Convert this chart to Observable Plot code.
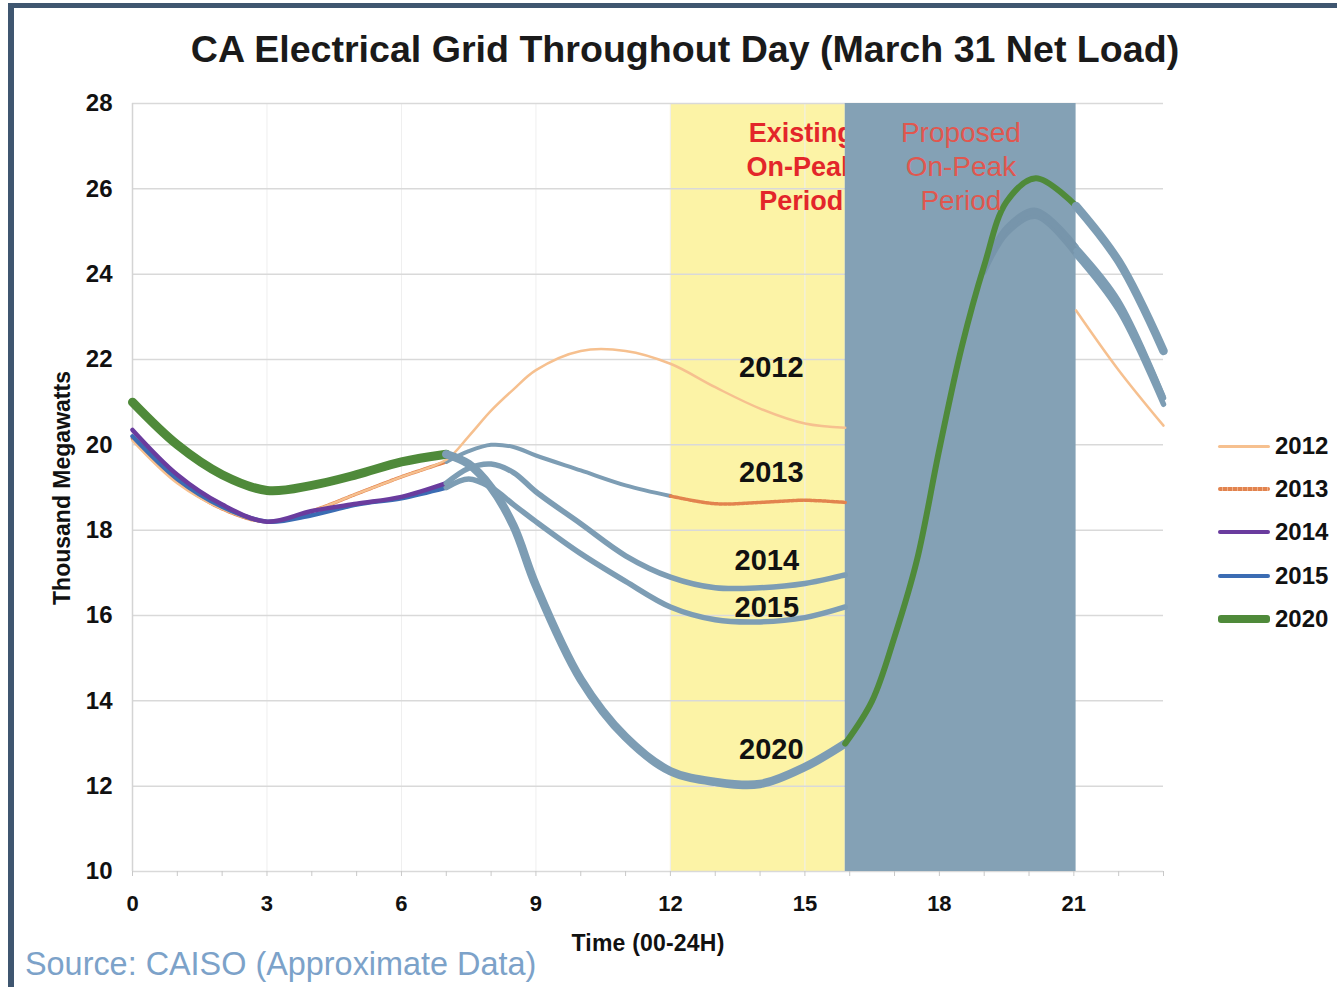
<!DOCTYPE html>
<html><head><meta charset="utf-8">
<script src="https://cdn.jsdelivr.net/npm/d3@7"></script>
<script src="https://cdn.jsdelivr.net/npm/@observablehq/plot@0.6"></script>
<style>
html,body{margin:0;padding:0;background:#fff;}
#wrap{position:relative;width:1337px;height:987px;overflow:hidden;font-family:"Liberation Sans",Arial,sans-serif;background:#fff;}
#chart{position:absolute;left:0;top:0;}
.abs{position:absolute;white-space:nowrap;line-height:1;}
#frame{position:absolute;left:8px;top:3px;width:1400px;height:1100px;border-top:5px solid #3f5670;border-left:6px solid #3f5670;}
#title{left:0;width:1370px;text-align:center;top:31px;font-size:37.6px;font-weight:bold;color:#1a1a1a;}
#ylab{left:62px;top:488px;transform:translate(-50%,-50%) rotate(-90deg);font-size:23px;font-weight:bold;color:#111;}
#xlab{left:648px;top:943px;transform:translate(-50%,-50%);font-size:23px;font-weight:bold;color:#111;letter-spacing:0.2px;}
#source{left:25px;top:964px;transform:translateY(-50%);font-size:32.4px;color:#7ca2c9;}
.lg{position:absolute;left:1218px;width:0;height:0;}
.sw{position:absolute;left:0;width:52px;border-radius:3px;}
.lt{position:absolute;left:57px;font-size:24px;font-weight:bold;color:#111;transform:translateY(-50%);}
</style></head><body>
<div id="wrap">
  <div id="chart"></div>
  <div id="frame"></div>
  <div class="abs" id="title">CA Electrical Grid Throughout Day (March 31 Net Load)</div>
  <div class="abs" id="ylab">Thousand Megawatts</div>
  <div class="abs" id="xlab">Time (00-24H)</div>
  <div class="abs" id="source">Source: CAISO (Approximate Data)</div>
  <div id="legend"></div>
</div>
<script>
// ---- data (thousand MW) ----
const hours = [0,1,2,3,4,5,6,7,7.5,8,8.5,9,10,11,12,13,14,15,15.9,16.5,17,17.5,18,18.5,19,19.5,20.15,21.05,22,23];
const load2012 = [20.1,19.1,18.5,18.2,18.45,18.85,19.25,19.65,20.2,20.8,21.3,21.75,22.2,22.2,21.9,21.35,20.85,20.5,20.4,20.6,21.0,21.6,22.3,22.9,23.4,23.7,23.8,23.15,21.75,20.45];
const load2013 = [20.15,19.15,18.5,18.2,18.45,18.85,19.25,19.6,19.85,20.0,19.95,19.75,19.4,19.05,18.8,18.62,18.65,18.7,18.65,18.9,19.4,20.2,21.3,22.7,24.2,25.1,25.5,24.65,23.4,21.15];
const load2014 = [20.35,19.3,18.6,18.2,18.45,18.62,18.78,19.1,19.45,19.55,19.35,18.9,18.15,17.4,16.9,16.65,16.65,16.75,16.95,17.3,17.9,19.0,20.6,22.4,24.15,25.05,25.45,24.55,23.3,21.1];
const load2015 = [20.2,19.2,18.55,18.2,18.35,18.6,18.75,19.0,19.2,19.0,18.6,18.2,17.45,16.8,16.2,15.9,15.85,15.95,16.2,16.7,17.4,18.6,20.3,22.2,24.05,24.95,25.35,24.45,23.15,20.95];
const load2020 = [21.0,20.0,19.3,18.93,19.05,19.3,19.6,19.78,19.55,19.0,18.1,16.7,14.5,13.15,12.35,12.1,12.05,12.45,13.0,14.0,15.5,17.3,19.9,22.3,24.2,25.7,26.25,25.6,24.3,22.2];
const years = ["2012","2013","2014","2015","2020"];
const existingPeriod = [12, 15.9];
const proposedPeriod = [15.9, 21.05];
const yTicks = [10,12,14,16,18,20,22,24,26,28];
const xTickLabels = [0,3,6,9,12,15,18,21];
const hourTicks = d3.range(0, 24);

// ---- styling ----
const C = {peach:"#f6c08f", orange:"#e2834e", purple:"#6a3c9e", blue:"#3b6cb3", green:"#4f8a3a", steel:"#7d9db4", arc:"#7795ab", yellow:"#fcf3a6", band:"#84a1b5"};
const legendStyle = {
  "2012": {c:C.peach, w:3},
  "2013": {c:C.orange, w:4},
  "2014": {c:C.purple, w:4},
  "2015": {c:C.blue, w:4},
  "2020": {c:C.green, w:8}
};
function styleFor(year, h) {
  const r = h < 7 ? "left" : h < 12 ? "mid" : h < existingPeriod[1] ? "yel" : h < proposedPeriod[1] ? "band" : "right";
  const thick = year === "2020";
  const steel = {key:"steel", stroke:C.steel, w: thick ? 8.5 : (year === "2013" ? 4 : 5.5)};
  const arc = {key:"arc", stroke:C.arc, w:5};
  if (year === "2012") return r === "band" ? null : {key:"peach", stroke:C.peach, w:2.5};
  if (year === "2013") {
    if (r === "left" || r === "yel") return {key:"orange", stroke:C.orange, w:3.5, dash:"3,1.5"};
    if (r === "band") return h >= 19 ? arc : null;
    return steel;
  }
  if (year === "2020") {
    if (r === "left") return {key:"green", stroke:C.green, w:9};
    if (r === "band") return {key:"green", stroke:C.green, w:6};
    return steel;
  }
  if (r === "left") return year === "2014" ? {key:"purple", stroke:C.purple, w:4.5} : {key:"blue", stroke:C.blue, w:4.5};
  if (r === "band") return h >= 19 ? arc : null;
  return steel;
}
const seriesList = [
  {year:"2013", values:load2013},
  {year:"2012", values:load2012},
  {year:"2015", values:load2015},
  {year:"2014", values:load2014},
  {year:"2020", values:load2020}
];
const lineMarks = [];
for (const s of seriesList) {
  let run = null, runStyle = null;
  const flush = () => {
    if (run && run.length > 1) {
      lineMarks.push(Plot.line(run, {x:"h", y:"v", stroke:runStyle.stroke, strokeWidth:runStyle.w,
        strokeDasharray: runStyle.dash, curve:"catmull-rom", strokeLinecap:"round", strokeLinejoin:"round"}));
    }
    run = null; runStyle = null;
  };
  for (let i = 0; i < hours.length - 1; i++) {
    const mid = (hours[i] + hours[i+1]) / 2;
    const st = styleFor(s.year, mid);
    if (!st) { flush(); continue; }
    if (run && runStyle.key === st.key && runStyle.w === st.w) {
      run.push({h:hours[i+1], v:s.values[i+1]});
    } else {
      flush();
      runStyle = st;
      run = [{h:hours[i], v:s.values[i]}, {h:hours[i+1], v:s.values[i+1]}];
    }
  }
  flush();
}

// annotation label positions (data coords)
const yearLabels = [
  {t:"2012", x:14.25, y:21.8},
  {t:"2013", x:14.25, y:19.35},
  {t:"2014", x:14.15, y:17.29},
  {t:"2015", x:14.15, y:16.19},
  {t:"2020", x:14.25, y:12.86}
];

const svg = Plot.plot({
  width:1337, height:987,
  marginLeft:132, marginRight:174, marginTop:103, marginBottom:116,
  x:{domain:[0,23]},
  y:{domain:[10,28]},
  style:{fontFamily:'"Liberation Sans", Arial, sans-serif', fontWeight:"bold", background:"transparent", color:"#111"},
  marks:[
    Plot.rect([existingPeriod], {x1:d=>d[0], x2:d=>d[1], y1:10, y2:28, fill:C.yellow}),
    Plot.ruleX(xTickLabels, {stroke:"#efefef", strokeWidth:1}),
    Plot.ruleY(yTicks, {stroke:"#d9d9d9", strokeWidth:1.5}),
    Plot.ruleX([0], {stroke:"#d4d4d4", strokeWidth:1.5}),
    Plot.axisX(hourTicks, {tickSize:5, tickFormat:()=>"", stroke:"#c8c8c8", label:null}),
    Plot.axisX(xTickLabels, {tickSize:0, tickPadding:24, fontSize:22, label:null}),
    Plot.axisY(yTicks, {tickSize:0, tickPadding:20, fontSize:24, label:null}),
    Plot.text(["Existing\nOn-Peak\nPeriod"], {x:14.92, y:26.55, text:d=>d, fill:"#e3262a", fontSize:27, fontWeight:"bold", lineHeight:1.26, lineAnchor:"middle", textAnchor:"middle"}),
    Plot.rect([proposedPeriod], {x1:d=>d[0], x2:d=>d[1], y1:10, y2:28, fill:C.band}),
    ...lineMarks,
    Plot.text(yearLabels, {x:"x", y:"y", text:"t", fill:"#111", fontSize:29, fontWeight:"bold"}),
    Plot.text(["Proposed\nOn-Peak\nPeriod"], {x:18.48, y:26.55, text:d=>d, fill:"#e0574f", fontSize:28, fontWeight:"normal", lineHeight:1.21, lineAnchor:"middle", textAnchor:"middle"})
  ]
});
document.getElementById("chart").appendChild(svg);

// legend
const lg = document.getElementById("legend");
const rowY = [446, 489, 532, 576, 619];
years.forEach((yr, i) => {
  const st = legendStyle[yr];
  const row = document.createElement("div");
  row.className = "lg";
  row.style.top = rowY[i] + "px";
  const sw = document.createElement("div");
  sw.className = "sw";
  sw.style.height = st.w + "px";
  sw.style.top = (-st.w/2) + "px";
  sw.style.background = yr === "2013"
    ? `repeating-linear-gradient(90deg, ${st.c} 0 4px, #f0b08a 4px 5px)` : st.c;
  const lt = document.createElement("div");
  lt.className = "lt";
  lt.textContent = yr;
  row.appendChild(sw); row.appendChild(lt);
  lg.appendChild(row);
});
</script>
</body></html>
